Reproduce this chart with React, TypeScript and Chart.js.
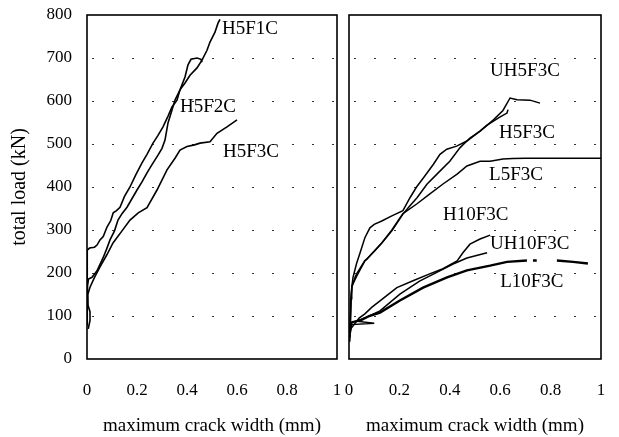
import React, { useEffect, useRef } from "react";
import { Chart, registerables } from "chart.js";

Chart.register(...registerables);

type P = [number, number | null];

// ---- axis ticks ----
const yTicks = [0, 100, 200, 300, 400, 500, 600, 700, 800];
const xTicks = [0, 0.2, 0.4, 0.6, 0.8, 1];
const xTitle = "maximum crack width (mm)";
const yTitle = "total load (kN)";

// ---- left panel series ----
const H5F1C: P[] = [
  [0, 80], [0, 150], [0.002, 253], [0.01, 258], [0.03, 260], [0.04, 265], [0.052, 277],
  [0.065, 285], [0.08, 307], [0.095, 322], [0.105, 340], [0.118, 345], [0.132, 353],
  [0.15, 378], [0.172, 400], [0.195, 428], [0.22, 456], [0.24, 476], [0.264, 502],
  [0.284, 520], [0.304, 540], [0.325, 566], [0.34, 586], [0.36, 602], [0.372, 626],
  [0.392, 642], [0.412, 660], [0.44, 677], [0.46, 695], [0.48, 718], [0.492, 737],
  [0.512, 760], [0.524, 781], [0.532, 790],
];
const H5F2C: P[] = [
  [0, 120], [0.002, 170], [0.006, 186], [0.02, 190], [0.04, 205], [0.064, 235],
  [0.078, 255], [0.092, 277], [0.11, 298], [0.124, 323], [0.14, 338], [0.16, 353],
  [0.2, 393], [0.22, 412], [0.24, 433], [0.26, 452], [0.284, 474], [0.3, 490],
  [0.312, 509], [0.324, 549], [0.34, 579], [0.352, 602], [0.372, 626], [0.392, 656],
  [0.404, 684], [0.416, 697], [0.44, 700], [0.456, 697], [0.46, 690],
];
const H5F3C_L: P[] = [
  [0.005, 70], [0.012, 90], [0.012, 110], [0.004, 125], [0.003, 150], [0.012, 167],
  [0.03, 190], [0.052, 214], [0.08, 243], [0.104, 270], [0.14, 298], [0.172, 323],
  [0.205, 340], [0.24, 352], [0.28, 393], [0.32, 440], [0.352, 467], [0.372, 486],
  [0.4, 494], [0.43, 498], [0.452, 502], [0.492, 505], [0.52, 525], [0.56, 540],
  [0.6, 556],
];

// ---- right panel series ----
const UH5F3C: P[] = [
  [0.004, 70], [0.006, 130], [0.011, 167], [0.016, 190], [0.03, 222], [0.044, 247],
  [0.063, 282], [0.083, 305], [0.1, 313], [0.13, 321], [0.17, 333], [0.214, 345],
  [0.242, 375], [0.268, 400], [0.295, 421], [0.335, 453], [0.361, 476], [0.388, 488],
  [0.427, 495], [0.468, 507], [0.52, 530], [0.571, 555], [0.611, 578], [0.639, 607],
  [0.667, 603], [0.718, 602], [0.758, 595],
];
const H5F3C_R: P[] = [
  [0.004, 70], [0.008, 140], [0.011, 167], [0.024, 190], [0.032, 200], [0.063, 229],
  [0.071, 232], [0.09, 245], [0.13, 270], [0.17, 298], [0.214, 337], [0.24, 355],
  [0.27, 375], [0.31, 407], [0.349, 430], [0.4, 460], [0.44, 491], [0.48, 514],
  [0.52, 530], [0.548, 544], [0.6, 563], [0.627, 572], [0.631, 580],
];
const L5F3C: P[] = [
  [0.004, 70], [0.009, 150], [0.012, 170], [0.03, 192], [0.063, 228], [0.1, 250],
  [0.13, 270], [0.17, 300], [0.214, 338], [0.27, 361], [0.321, 384], [0.373, 407],
  [0.429, 430], [0.468, 449], [0.52, 460], [0.56, 460], [0.611, 465], [0.65, 466],
  [0.7, 467], [0.8, 467], [1.0, 467],
];
const UH10F3C: P[] = [
  [0.003, 40], [0.006, 70], [0.011, 73], [0.04, 95], [0.063, 105], [0.09, 120],
  [0.123, 135], [0.19, 166], [0.254, 182], [0.32, 198], [0.373, 210], [0.429, 228],
  [0.452, 247], [0.48, 267], [0.52, 279], [0.56, 288],
];
const H10F3C: P[] = [
  [0.003, 50], [0.008, 80], [0.1, 83], [0.03, 88], [0.07, 97], [0.123, 112],
  [0.202, 151], [0.28, 181], [0.36, 205], [0.413, 221], [0.468, 235], [0.548, 247],
];
const L10F3C: P[] = [
  [0.003, 60], [0.01, 85], [0.05, 91], [0.08, 100], [0.123, 108],
  [0.202, 136], [0.294, 166], [0.389, 190], [0.468, 206], [0.56, 217], [0.627, 226],
  [0.706, 229], [0.71, null], [0.73, 229], [0.745, 229], [0.75, null], [0.825, 229],
  [0.889, 226], [0.948, 222],
];

// ---- curve labels ----
const leftLabels = ["H5F1C", "H5F2C", "H5F3C"];
const leftLabelPos: [number, number][] = [[0.54, 767], [0.372, 586], [0.544, 481]];
const rightLabels = ["UH5F3C", "H5F3C", "L5F3C", "H10F3C", "UH10F3C", "L10F3C"];
const rightLabelPos: [number, number][] = [
  [0.56, 670], [0.595, 526], [0.556, 428], [0.373, 335], [0.56, 268], [0.6, 178],
];

const FONT = "'Liberation Serif', 'Times New Roman', serif";
const CLEAR = "rgba(0,0,0,0)";

function makeConfig(
  series: { data: P[]; width: number }[],
  labels: string[],
  labelPos: [number, number][],
  showY: boolean,
  padding: { top: number; right: number; bottom: number; left: number },
  yWidth: number
): any {
  const framePlugin = {
    id: "frame",
    afterDraw(chart: any) {
      const { ctx, chartArea: a } = chart;
      ctx.save();
      ctx.strokeStyle = "#000";
      ctx.lineWidth = 1.6;
      ctx.setLineDash([]);
      ctx.strokeRect(a.left, a.top, a.right - a.left, a.bottom - a.top);
      ctx.restore();
    },
  };
  const labelPlugin = {
    id: "curveLabels",
    afterDraw(chart: any) {
      const { ctx } = chart;
      const xs = chart.scales.x;
      const ys = chart.scales.y;
      ctx.save();
      ctx.fillStyle = "#000";
      ctx.font = `19px ${FONT}`;
      ctx.textAlign = "left";
      ctx.textBaseline = "middle";
      labels.forEach((t, i) => {
        const [vx, vy] = labelPos[i];
        ctx.fillText(t, xs.getPixelForValue(vx), ys.getPixelForValue(vy));
      });
      ctx.restore();
    },
  };
  return {
    type: "line",
    data: {
      datasets: series.map((s) => ({
        data: s.data.map(([x, y]) => ({ x, y })),
        borderColor: "#000",
        borderWidth: s.width,
        pointRadius: 0,
        fill: false,
        tension: 0,
        spanGaps: false,
      })),
    },
    options: {
      animation: false,
      responsive: false,
      maintainAspectRatio: false,
      events: [],
      layout: { padding },
      plugins: { legend: { display: false }, tooltip: { enabled: false } },
      scales: {
        x: {
          type: "linear",
          min: 0,
          max: 1,
          afterBuildTicks: (s: any) => {
            s.ticks = xTicks.map((v) => ({ value: v }));
          },
          afterFit: (s: any) => {
            s.height = 437 - 359 - padding.bottom;
          },
          grid: {
            drawOnChartArea: false,
            drawTicks: true,
            tickLength: 21,
            tickColor: CLEAR,
            color: CLEAR,
          },
          border: { display: false },
          ticks: {
            color: "#000",
            font: { family: FONT, size: 17 },
            padding: 0,
            maxRotation: 0,
            callback: (v: any) => String(Math.round(Number(v) * 10) / 10),
          },
          title: {
            display: true,
            text: xTitle,
            color: "#000",
            font: { family: FONT, size: 19 },
            padding: { top: 0, bottom: 0 },
          },
        },
        y: {
          type: "linear",
          min: 0,
          max: 800,
          afterBuildTicks: (s: any) => {
            s.ticks = yTicks.map((v) => ({ value: v }));
          },
          afterFit: (s: any) => {
            s.width = yWidth;
          },
          grid: {
            drawTicks: showY,
            tickLength: 15,
            tickColor: CLEAR,
            lineWidth: 1,
            color: (c: any) =>
              c.tick && (c.tick.value === 0 || c.tick.value === 800) ? CLEAR : "#333",
          },
          border: { display: false, dash: [2, 18], dashOffset: 15 },
          ticks: {
            display: showY,
            color: "#000",
            font: { family: FONT, size: 17 },
            padding: 0,
          },
          title: {
            display: showY,
            text: yTitle,
            color: "#000",
            font: { family: FONT, size: 20 },
            padding: { top: 8, bottom: 0 },
          },
        },
      },
    },
    plugins: [framePlugin, labelPlugin],
  };
}

function Panel(props: { left: number; width: number; build: () => any }) {
  const ref = useRef<HTMLCanvasElement | null>(null);
  useEffect(() => {
    if (!ref.current) return;
    const chart = new Chart(ref.current, props.build());
    return () => chart.destroy();
  }, []);
  return (
    <canvas
      ref={ref}
      width={props.width}
      height={437}
      style={{
        position: "absolute",
        left: props.left,
        top: 0,
        width: props.width,
        height: 437,
        display: "block",
      }}
    />
  );
}

export default function App() {
  return (
    <div
      style={{
        position: "fixed",
        left: 0,
        top: 0,
        width: 619,
        height: 437,
        background: "#fff",
        overflow: "hidden",
      }}
    >
      <Panel
        left={0}
        width={343}
        build={() =>
          makeConfig(
            [
              { data: H5F1C, width: 1.6 },
              { data: H5F2C, width: 1.6 },
              { data: H5F3C_L, width: 1.6 },
            ],
            leftLabels,
            leftLabelPos,
            true,
            { top: 15, right: 6, bottom: 0, left: 0 },
            87
          )
        }
      />
      <Panel
        left={343}
        width={276}
        build={() =>
          makeConfig(
            [
              { data: UH5F3C, width: 1.5 },
              { data: H5F3C_R, width: 1.5 },
              { data: L5F3C, width: 1.5 },
              { data: UH10F3C, width: 1.5 },
              { data: H10F3C, width: 1.5 },
              { data: L10F3C, width: 2.4 },
            ],
            rightLabels,
            rightLabelPos,
            false,
            { top: 15, right: 18, bottom: 0, left: 6 },
            0
          )
        }
      />
    </div>
  );
}
